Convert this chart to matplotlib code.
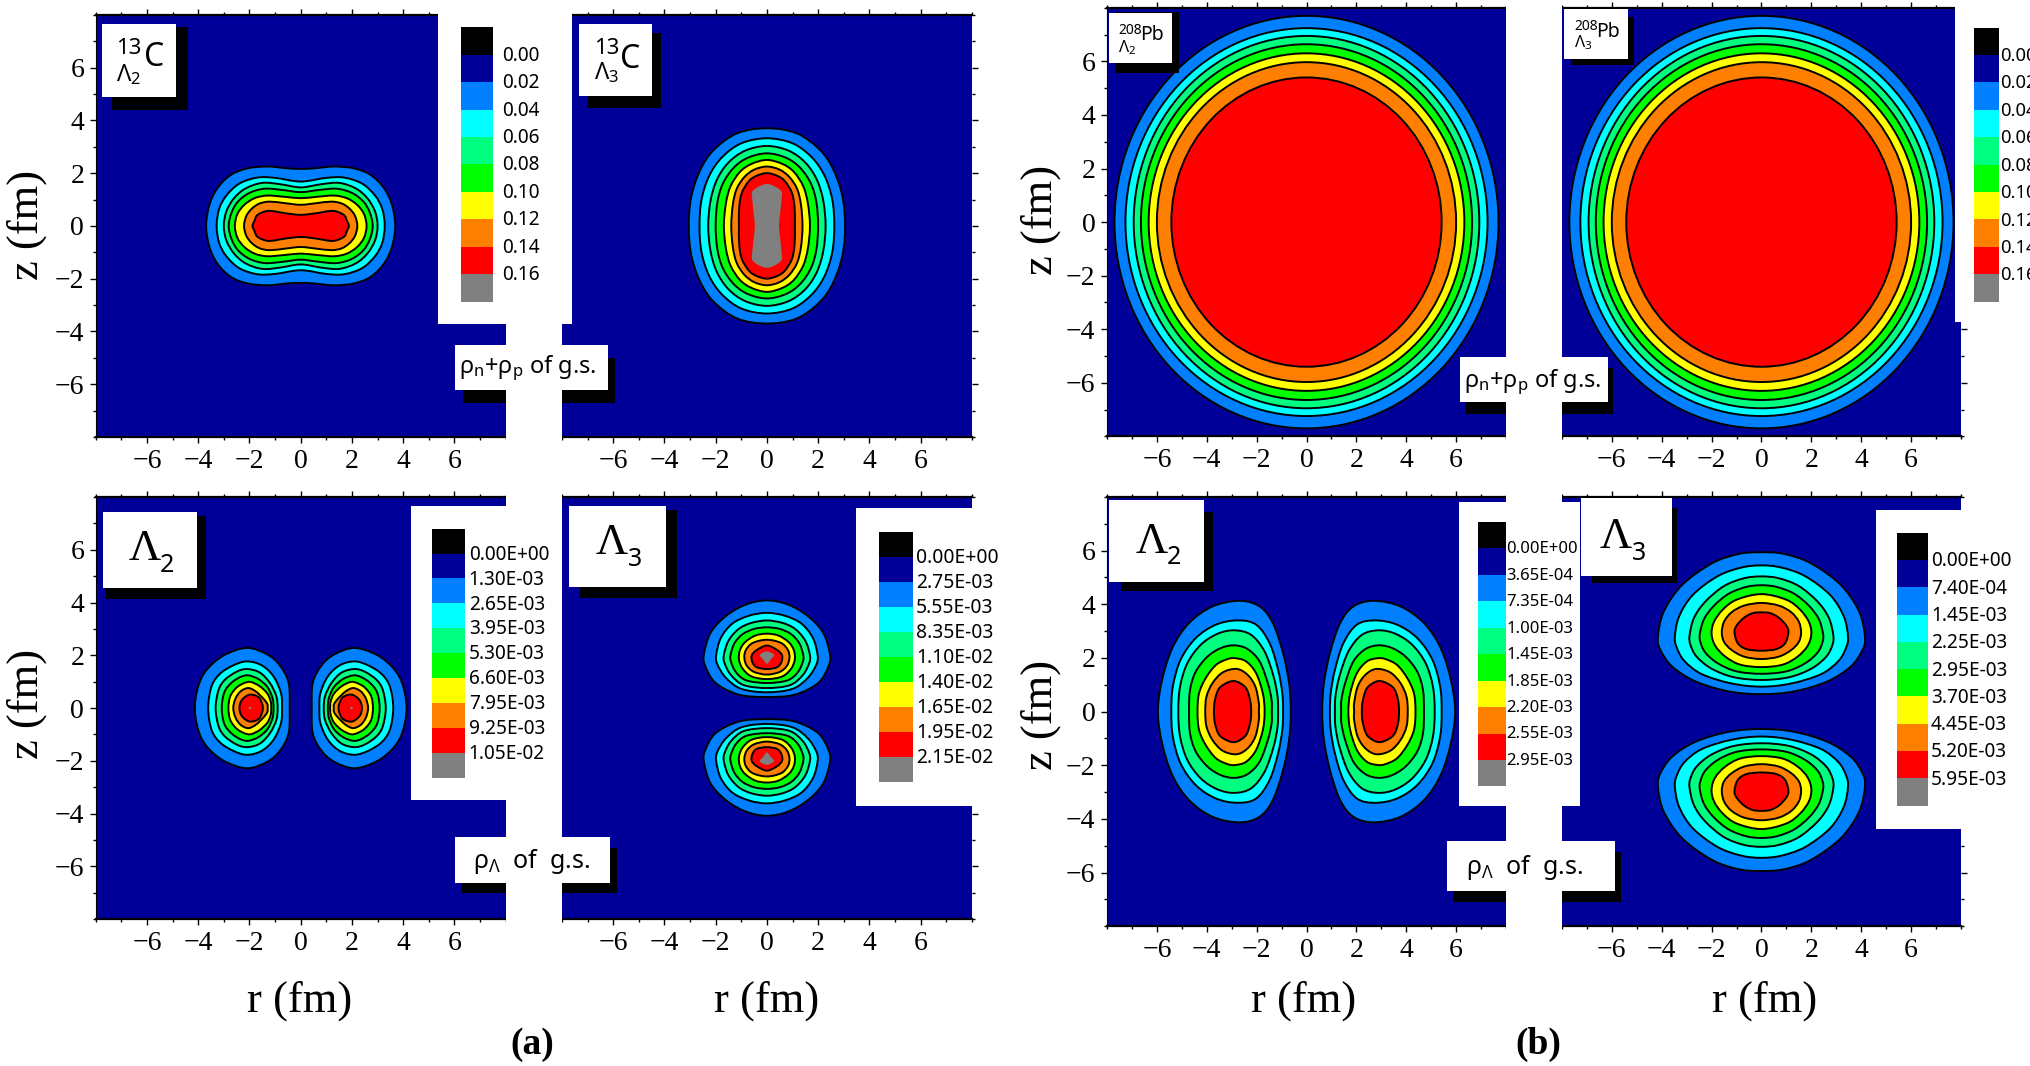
import numpy as np
import matplotlib
matplotlib.use("Agg")
import matplotlib.pyplot as plt
from matplotlib.path import Path
from matplotlib.patches import PathPatch, Rectangle, Ellipse
from matplotlib.ticker import MultipleLocator

plt.rcParams['mathtext.fontset'] = 'custom'
plt.rcParams['mathtext.rm'] = 'Noto Sans'
plt.rcParams['mathtext.it'] = 'Noto Sans'
plt.rcParams['mathtext.bf'] = 'Noto Sans'

W, H = 2031, 1066

# colori delle bande, dalla piu esterna
band_colors = ['#0080FF', '#00FFFF', '#00FF80', '#00FF00', '#FFFF00', '#FF8000', '#FF0000', '#808080']
navy = '#000099'
bar_colors = ['#000000', navy] + band_colors

# etichette delle legende
labels_nucleon = ['0.00', '0.02', '0.04', '0.06', '0.08', '0.10', '0.12', '0.14', '0.16']
labels_c_l2 = ['0.00E+00', '1.30E-03', '2.65E-03', '3.95E-03', '5.30E-03', '6.60E-03', '7.95E-03', '9.25E-03', '1.05E-02']
labels_c_l3 = ['0.00E+00', '2.75E-03', '5.55E-03', '8.35E-03', '1.10E-02', '1.40E-02', '1.65E-02', '1.95E-02', '2.15E-02']
labels_pb_l2 = ['0.00E+00', '3.65E-04', '7.35E-04', '1.00E-03', '1.45E-03', '1.85E-03', '2.20E-03', '2.55E-03', '2.95E-03']
labels_pb_l3 = ['0.00E+00', '7.40E-04', '1.45E-03', '2.25E-03', '2.95E-03', '3.70E-03', '4.45E-03', '5.20E-03', '5.95E-03']

tick_major = [-6, -4, -2, 0, 2, 4, 6]

# contorni: (r, z) in fm
# 13C L2 nucleoni, un quadrante da (r,0) a (0,z)
c13_l2_rho = [
    [(3.69, 0), (3.56, .8), (3.25, 1.43), (2.73, 1.93), (2.08, 2.18), (1.29, 2.25), (.51, 2.18), (0, 2.16)],
    [(3.28, 0), (3.18, .65), (2.9, 1.15), (2.4, 1.6), (1.7, 1.83), (1.0, 1.82), (0, 1.68)],
    [(3.0, 0), (2.9, .55), (2.6, 1.05), (2.15, 1.42), (1.5, 1.63), (.8, 1.58), (0, 1.46)],
    [(2.81, 0), (2.7, .5), (2.45, .92), (2.0, 1.25), (1.4, 1.41), (.7, 1.36), (0, 1.28)],
    [(2.57, 0), (2.47, .45), (2.2, .8), (1.8, 1.05), (1.3, 1.15), (.6, 1.1), (0, 1.05)],
    [(2.21, 0), (2.12, .38), (1.9, .66), (1.6, .85), (1.2, .92), (.6, .86), (0, .8)],
    [(1.88, 0), (1.8, .2), (1.68, .42), (1.25, .57), (.6, .48), (0, .42)],
]
# 13C L3 nucleoni, un quadrante
c13_l3_rho = [
    [(3.05, 0), (2.95, 1.11), (2.6, 2.12), (2.07, 2.88), (1.16, 3.51), (0, 3.7)],
    [(2.63, 0), (2.55, 1.0), (2.25, 1.9), (1.75, 2.6), (1.0, 3.13), (0, 3.32)],
    [(2.29, 0), (2.2, .95), (1.95, 1.75), (1.5, 2.4), (.85, 2.85), (0, 3.03)],
    [(2.0, 0), (1.93, .9), (1.72, 1.6), (1.3, 2.2), (.75, 2.58), (0, 2.75)],
    [(1.68, 0), (1.6, .85), (1.42, 1.5), (1.05, 2.05), (.6, 2.35), (0, 2.5)],
    [(1.39, 0), (1.33, .8), (1.18, 1.4), (.88, 1.85), (.5, 2.13), (0, 2.25)],
    [(1.09, 0), (1.08, .7), (.98, 1.25), (.7, 1.7), (.4, 1.9), (0, 2.0)],
    [(.47, 0), (.52, .5), (.57, 1.0), (.57, 1.3), (.3, 1.5), (0, 1.59)],
]
# 13C L2 iperone, lobo sinistro, meta superiore
c13_l2_lobe = [
    [(-4.13, 0), (-4.0, .82), (-3.67, 1.45), (-3.0, 2.0), (-2.1, 2.28), (-1.3, 2.03), (-.8, 1.6), (-.47, .95), (-.43, 0)],
    [(-3.61, 0), (-3.48, .82), (-3.15, 1.3), (-2.63, 1.62), (-2.1, 1.77), (-1.52, 1.62), (-1.06, 1.2), (-.77, .57), (-.73, 0)],
    [(-3.32, 0), (-3.2, .7), (-2.95, 1.08), (-2.5, 1.38), (-2.1, 1.48), (-1.6, 1.35), (-1.2, .95), (-.95, .45), (-.9, 0)],
    [(-3.08, 0), (-2.98, .6), (-2.7, .96), (-2.35, 1.18), (-2.05, 1.24), (-1.65, 1.1), (-1.3, .8), (-1.1, .38), (-1.06, 0)],
    [(-2.82, 0), (-2.75, .45), (-2.5, .78), (-2.2, .95), (-1.95, .99), (-1.6, .83), (-1.3, .55), (-1.17, .25), (-1.15, 0)],
    [(-2.63, 0), (-2.55, .35), (-2.35, .63), (-2.05, .76), (-1.75, .63), (-1.45, .35), (-1.3, .15), (-1.29, 0)],
    [(-2.39, 0), (-2.3, .3), (-2.0, .51), (-1.65, .42), (-1.5, .15), (-1.48, 0)],
    [(-2.04, 0), (-1.98, .05), (-1.92, 0)],
]
# 13C L3 iperone, lobo superiore, meta destra
c13_l3_lobe = [
    [(0, .42), (1.09, .51), (2.0, .95), (2.4, 1.58), (2.46, 2.03), (2.2, 2.85), (1.61, 3.48), (.83, 3.92), (0, 4.08)],
    [(0, .6), (1.0, .73), (1.6, 1.15), (1.93, 1.65), (1.98, 2.0), (1.8, 2.65), (1.35, 3.2), (.7, 3.5), (0, 3.61)],
    [(0, .76), (.9, .87), (1.4, 1.25), (1.65, 1.7), (1.68, 2.0), (1.5, 2.55), (1.1, 3.0), (.6, 3.23), (0, 3.32)],
    [(0, .95), (.8, 1.05), (1.2, 1.35), (1.4, 1.75), (1.42, 2.0), (1.27, 2.45), (.95, 2.8), (.5, 3.0), (0, 3.06)],
    [(0, 1.1), (.6, 1.2), (.95, 1.5), (1.09, 1.85), (1.05, 2.2), (.85, 2.5), (.45, 2.75), (0, 2.82)],
    [(0, 1.27), (.5, 1.37), (.78, 1.6), (.88, 1.9), (.82, 2.2), (.55, 2.47), (0, 2.59)],
    [(0, 1.48), (.4, 1.55), (.57, 1.75), (.59, 2.0), (.4, 2.2), (0, 2.37)],
    [(0, 1.68), (.15, 1.85), (.28, 2.0), (.2, 2.08), (0, 2.15)],
]
# 208Pb nucleoni: contorni quasi circolari, semiassi r e z
pb_semi_r = [7.70, 7.26, 6.93, 6.64, 6.33, 6.00, 5.42]
pb_semi_z = [7.70, 7.24, 6.95, 6.64, 6.30, 5.97, 5.40]
# 208Pb L2 iperone, lobo sinistro, meta superiore
pb_l2_lobe = [
    [(-5.96, 0), (-5.79, 1.18), (-5.38, 2.37), (-4.71, 3.3), (-3.77, 3.92), (-2.69, 4.13), (-1.88, 3.92), (-1.35, 3.3), (-.94, 2.18), (-.7, 1.06), (-.63, 0)],
    [(-5.42, 0), (-5.36, .93), (-5.05, 1.93), (-4.44, 2.74), (-3.63, 3.24), (-2.76, 3.4), (-2.02, 3.24), (-1.48, 2.55), (-1.14, 1.56), (-.97, .68), (-.94, 0)],
    [(-5.14, 0), (-5.07, .93), (-4.78, 1.8), (-4.24, 2.49), (-3.57, 2.9), (-2.89, 3.03), (-2.22, 2.86), (-1.68, 2.24), (-1.32, 1.31), (-1.16, .56), (-1.14, 0)],
    [(-4.71, 0), (-4.67, .81), (-4.44, 1.49), (-3.97, 2.05), (-3.43, 2.37), (-2.89, 2.47), (-2.36, 2.33), (-1.88, 1.87), (-1.55, 1.06), (-1.4, .44), (-1.39, 0)],
    [(-4.37, 0), (-4.31, .68), (-4.04, 1.25), (-3.63, 1.74), (-3.16, 1.96), (-2.85, 1.99), (-2.42, 1.87), (-2.02, 1.43), (-1.75, .68), (-1.68, 0)],
    [(-4.06, 0), (-4.01, .56), (-3.77, 1.06), (-3.36, 1.46), (-2.8, 1.59), (-2.36, 1.37), (-2.05, .93), (-1.91, .31), (-1.91, 0)],
    [(-3.71, 0), (-3.67, .44), (-3.5, .87), (-3.12, 1.1), (-2.8, 1.12), (-2.42, .87), (-2.25, .37), (-2.22, 0)],
]
# 208Pb L3 iperone, lobo superiore, meta destra
pb_l3_lobe = [
    [(0, .65), (1.29, .75), (2.63, 1.12), (3.58, 1.68), (4.05, 2.3), (4.15, 2.8), (3.91, 3.74), (3.17, 4.73), (1.96, 5.54), (.89, 5.88), (0, 5.94)],
    [(0, .93), (1.2, 1.05), (2.4, 1.4), (3.1, 1.9), (3.4, 2.4), (3.47, 2.8), (3.3, 3.55), (2.75, 4.35), (1.75, 5.05), (.8, 5.37), (0, 5.45)],
    [(0, 1.18), (1.1, 1.28), (2.0, 1.6), (2.6, 2.05), (2.85, 2.5), (2.88, 2.85), (2.7, 3.5), (2.25, 4.1), (1.5, 4.68), (.7, 4.97), (0, 5.04)],
    [(0, 1.41), (1.0, 1.5), (1.75, 1.8), (2.25, 2.2), (2.45, 2.6), (2.47, 2.9), (2.3, 3.45), (1.9, 3.95), (1.3, 4.4), (.6, 4.65), (0, 4.71)],
    [(0, 1.66), (.85, 1.75), (1.45, 2.05), (1.85, 2.45), (2.0, 2.9), (1.9, 3.35), (1.55, 3.8), (1.0, 4.17), (0, 4.38)],
    [(0, 1.96), (.7, 2.05), (1.2, 2.3), (1.5, 2.6), (1.59, 2.95), (1.5, 3.35), (1.2, 3.7), (.7, 3.95), (0, 4.05)],
    [(0, 2.27), (.6, 2.33), (.95, 2.55), (1.08, 2.95), (1.0, 3.2), (.7, 3.5), (.35, 3.67), (0, 3.7)],
]

fig = plt.figure(figsize=(W / 100, H / 100), dpi=100, facecolor='white')


def make_axes(x0, x1, y0, y1, left=False, right=False, bottom_label=True):
    ax = fig.add_axes([x0 / W, 1 - y1 / H, (x1 - x0) / W, (y1 - y0) / H])
    ax.set_facecolor(navy)
    ax.set_xlim(-8, 8)
    ax.set_ylim(-8, 8)
    ax.set_xticks(tick_major)
    ax.set_yticks(tick_major)
    ax.xaxis.set_minor_locator(MultipleLocator(1))
    ax.yaxis.set_minor_locator(MultipleLocator(1))
    ax.tick_params(which='major', direction='out', length=4.3, width=1, top=True, bottom=True,
                   left=left, right=right, labelleft=left, labelsize=20, pad=4)
    ax.tick_params(which='minor', direction='out', length=2, width=1, top=True, bottom=True,
                   left=left, right=right)
    for lab in ax.get_xticklabels() + ax.get_yticklabels():
        lab.set_family('Liberation Serif')
    ax.spines['top'].set_linewidth(1.6)
    ax.spines['bottom'].set_linewidth(1.6)
    ax.spines['left'].set_linewidth(0.8)
    ax.spines['right'].set_visible(False)
    if not left:
        ax.spines['left'].set_visible(False)
    return ax


def smooth_patch(pts, color, edge=True):
    # spline chiusa di Catmull-Rom sui punti letti
    pts = np.array(pts, dtype=float)
    n = len(pts)
    verts = [pts[0]]
    codes = [Path.MOVETO]
    for i in range(n):
        p0, p1, p2, p3 = pts[i - 1], pts[i], pts[(i + 1) % n], pts[(i + 2) % n]
        verts += [p1 + (p2 - p0) / 6, p2 - (p3 - p1) / 6, p2]
        codes += [Path.CURVE4] * 3
    verts.append(pts[0])
    codes.append(Path.CLOSEPOLY)
    return PathPatch(Path(verts, codes), facecolor=color, edgecolor='black' if edge else 'none',
                     linewidth=1.4 if edge else 0, zorder=2)


def loop_quadrant(q):
    q = np.array(q, dtype=float)
    top = np.vstack([q, q[-2::-1] * [-1, 1]])
    return np.vstack([top, top[-2:0:-1] * [1, -1]])


def loop_half_z(h, sign=1):
    h = np.array(h, dtype=float) * [sign, 1]
    return np.vstack([h, h[-2:0:-1] * [1, -1]])


def loop_half_r(h, sign=1):
    h = np.array(h, dtype=float) * [1, sign]
    return np.vstack([h, h[-2:0:-1] * [-1, 1]])


def draw_bands(ax, outlines):
    for i, pts in enumerate(outlines):
        # il grigio non ha il bordo nero
        ax.add_patch(smooth_patch(pts, band_colors[i], edge=i < 7))


def rect(x0, y0, x1, y1, color, z):
    fig.add_artist(Rectangle((x0 / W, 1 - y1 / H), (x1 - x0) / W, (y1 - y0) / H,
                             transform=fig.transFigure, facecolor=color, edgecolor='none', zorder=z))


def txt(x, y, s, size, family='Noto Sans', ha='left', va='center', **kw):
    fig.text(x / W, 1 - y / H, s, fontsize=size, family=family, ha=ha, va=va, zorder=8, color='black', **kw)


def tag(white, shadow):
    rect(shadow[0], shadow[1], shadow[2], shadow[3], 'black', 2)
    rect(white[0], white[1], white[2], white[3], 'white', 5)


def colorbar(x0, x1, y0, y1, labels, lab_x, size, lab_dy):
    h = (y1 - y0) / 10
    for i, c in enumerate(bar_colors):
        rect(x0, y0 + i * h, x1, y0 + (i + 1) * h, c, 6)
    for i, s in enumerate(labels):
        txt(lab_x, y0 + (i + 1) * h + lab_dy, s, size)


# pannelli (a)
ax_a1 = make_axes(95.7, 505.7, 14.8, 437.0, left=True)
ax_a2 = make_axes(561.9, 971.9, 14.8, 437.0, right=True)
ax_a3 = make_axes(95.7, 505.7, 497.0, 919.2, left=True)
ax_a4 = make_axes(561.9, 971.9, 497.0, 919.2, right=True)
# pannelli (b)
ax_b1 = make_axes(1107.0, 1506.0, 7.8, 436.4, left=True)
ax_b2 = make_axes(1561.9, 1961.0, 7.8, 436.4, right=True)
ax_b3 = make_axes(1107.0, 1506.0, 497.0, 926.2, left=True)
ax_b4 = make_axes(1561.9, 1961.0, 497.0, 926.2, right=True)

draw_bands(ax_a1, [loop_quadrant(c) for c in c13_l2_rho])
draw_bands(ax_a2, [loop_quadrant(c) for c in c13_l3_rho])
draw_bands(ax_a3, [loop_half_z(c) for c in c13_l2_lobe])
draw_bands(ax_a3, [loop_half_z(c, -1) for c in c13_l2_lobe])
draw_bands(ax_a4, [loop_half_r(c) for c in c13_l3_lobe])
draw_bands(ax_a4, [loop_half_r(c, -1) for c in c13_l3_lobe])
draw_bands(ax_b3, [loop_half_z(c) for c in pb_l2_lobe])
draw_bands(ax_b3, [loop_half_z(c, -1) for c in pb_l2_lobe])
draw_bands(ax_b4, [loop_half_r(c) for c in pb_l3_lobe])
draw_bands(ax_b4, [loop_half_r(c, -1) for c in pb_l3_lobe])
for ax in [ax_b1, ax_b2]:
    for i in range(len(pb_semi_r)):
        ax.add_patch(Ellipse((0, 0), 2 * pb_semi_r[i], 2 * pb_semi_z[i], facecolor=band_colors[i],
                             edgecolor='black', linewidth=1.4, zorder=2))

# ombre e riquadri bianchi
tag((102, 24.3, 176, 97), (112.2, 27.3, 188, 110.3))
tag((579, 24.3, 651.8, 96), (586.7, 33.3, 660.7, 108.3))
tag((455.4, 345.3, 607.8, 390.3), (463, 357.7, 615.4, 402.7))
tag((103.3, 511.8, 197, 588.4), (106.5, 516.2, 206, 598.8))
tag((569.5, 506, 665.8, 586.5), (579.7, 509.5, 676.7, 598))
tag((455.4, 837, 610, 882.5), (461.7, 848, 616.7, 893.3))
tag((1109, 12.7, 1171.6, 62.7), (1114.8, 11.7, 1178.6, 72.7))
tag((1563.8, 9.3, 1627.6, 59.3), (1570.8, 16.7, 1634, 65.3))
tag((1459.8, 356.7, 1607.8, 402.3), (1465.6, 368.3, 1613, 414))
tag((1109, 500, 1204, 581.6), (1120.6, 511.8, 1213, 590.6))
tag((1581, 498, 1671.6, 576.4), (1591.9, 508, 1677.3, 582.8))
tag((1447, 840.6, 1615.5, 891), (1452.8, 851.8, 1621, 902.3))

# strisce bianche tra i pannelli, sopra le ombre
rect(505.7, 0, 561.9, 930, 'white', 3)
rect(1506, 0, 1561.9, 930, 'white', 3)

# riquadri delle legende
rect(438, 0, 572, 324, 'white', 4)
rect(410.7, 506.2, 561.9, 800, 'white', 4)
rect(855.9, 508, 985, 805.5, 'white', 4)
rect(1955.4, 0, 2031, 322, 'white', 4)
rect(1458.6, 501.7, 1579.7, 806.2, 'white', 4)
rect(1875.7, 509.5, 1975, 828.7, 'white', 4)

colorbar(461, 493, 27.3, 301.7, labels_nucleon, 502.5, 13.7, 1)
colorbar(1974.5, 1999.4, 27.7, 301.7, labels_nucleon, 2000, 13.3, 1)
colorbar(432.4, 465, 528.6, 777.8, labels_c_l2, 468.7, 13.7, 1.2)
colorbar(878.8, 912.6, 531.6, 781.6, labels_c_l3, 915.8, 13.9, 1)
colorbar(1477.7, 1506.4, 521.9, 786.4, labels_pb_l2, 1506.4, 12, 1)
colorbar(1896.7, 1928, 532.7, 805.5, labels_pb_l3, 1931, 13.7, 1.5)

# etichette dei nuclei
txt(116, 49, '13', 16)
txt(116, 75, r'$\mathrm{Λ_2}$', 17)
txt(143.5, 58, 'C', 23)
txt(594, 48, '13', 16)
txt(594, 73, r'$\mathrm{Λ_3}$', 17)
txt(620, 59, 'C', 23)
txt(1118, 30, '208', 10)
txt(1118, 48, r'$\mathrm{Λ_2}$', 12)
txt(1139.7, 35, 'Pb', 14)
txt(1574, 26, '208', 10)
txt(1574, 43, r'$\mathrm{Λ_3}$', 12)
txt(1595.7, 31.7, 'Pb', 14)

# densita
txt(459, 368, r'$\mathrm{ρ_n{+}ρ_p}$ of g.s.', 17)
txt(1464, 382, r'$\mathrm{ρ_n{+}ρ_p}$ of g.s.', 17)
txt(472.6, 861, r'$\mathrm{ρ_Λ}$  of  g.s.', 18)
txt(1465.6, 867, r'$\mathrm{ρ_Λ}$  of  g.s.', 18)

# Lambda grandi
for x, y, lam, sub_x, sub in [(129, 549, 'Λ', 159.5, '2'), (596, 543.5, 'Λ', 628, '3'), (1136, 541.7, 'Λ', 1167, '2')]:
    txt(x, y, lam, 32, family='Liberation Serif')
    txt(sub_x, y + 16, sub, 18)
txt(1600, 537, 'Λ', 32, family='Liberation Serif')
txt(1632, 553, '3', 18)

# assi
for x, y in [(27, 225), (1041, 220), (27, 704), (1041, 715)]:
    txt(x, y, 'z (fm)', 32, family='Liberation Serif', ha='center', rotation=90)
for x in [300, 767, 1304, 1765]:
    txt(x, 1001, 'r (fm)', 32, family='Liberation Serif', ha='center')
txt(532, 1044, '(a)', 27, family='Liberation Serif', ha='center', fontweight='bold')
txt(1538, 1044, '(b)', 27, family='Liberation Serif', ha='center', fontweight='bold')

fig.savefig('out.png', dpi=100)
